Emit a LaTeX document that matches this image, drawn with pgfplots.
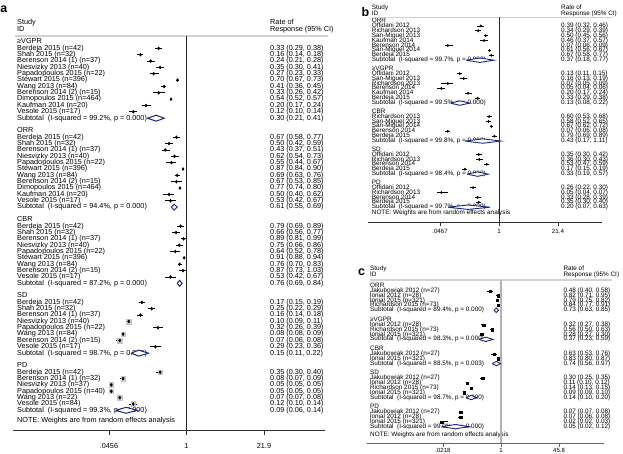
\documentclass[border=0pt]{standalone}
\usepackage{pgfplots}
\pgfplotsset{compat=1.18}
\usepackage{pgfplotstable}
\usepackage{fontspec}
\setmainfont{Liberation Sans}
\definecolor{stnavy}{RGB}{28,40,128}
\newcommand\R[3]{\node[tx] at (axis cs:\nx,#1) {#2}; \node[tx] at (axis cs:\ex,#1) {#3};}
\newcommand\Hd[2]{\node[tx] at (axis cs:\nx,#1) {#2};}
\newcommand\Ex[2]{\node[tx] at (axis cs:\ex,#1) {#2};}

% ---------- panel a data ----------
\pgfplotstableread{
y est lo hi
-2 0.33 0.29 0.38
-3 0.16 0.14 0.18
-4 0.24 0.21 0.28
-5 0.35 0.30 0.41
-6 0.27 0.23 0.33
-7 0.70 0.67 0.73
-8 0.41 0.36 0.45
-9 0.33 0.26 0.42
-10 0.54 0.52 0.57
-11 0.20 0.17 0.24
-12 0.12 0.10 0.14
-16 0.67 0.58 0.77
-17 0.50 0.42 0.59
-18 0.43 0.37 0.51
-19 0.62 0.54 0.73
-20 0.55 0.44 0.67
-21 0.87 0.84 0.90
-22 0.69 0.63 0.76
-23 0.67 0.53 0.85
-24 0.77 0.74 0.80
-25 0.50 0.40 0.62
-26 0.53 0.42 0.67
-30 0.79 0.69 0.89
-31 0.66 0.56 0.77
-32 0.89 0.81 0.99
-33 0.75 0.66 0.86
-34 0.64 0.52 0.78
-35 0.91 0.88 0.94
-36 0.76 0.70 0.83
-37 0.87 0.73 1.03
-38 0.53 0.42 0.67
-42 0.17 0.15 0.19
-43 0.25 0.22 0.29
-44 0.16 0.14 0.18
-45 0.10 0.09 0.11
-46 0.32 0.26 0.39
-47 0.08 0.08 0.09
-48 0.07 0.06 0.08
-49 0.29 0.23 0.36
-53 0.35 0.30 0.40
-54 0.08 0.07 0.09
-55 0.05 0.05 0.05
-56 0.05 0.05 0.05
-57 0.07 0.07 0.08
-58 0.12 0.10 0.14
}\studA
\pgfplotstableread{
y est
-45 0.10
-47 0.08
-48 0.07
-53 0.35
-54 0.08
-55 0.05
-56 0.05
-57 0.07
-58 0.12
}\boxA
% ---------- panel b data ----------
\pgfplotstableread{
y est lo hi
-2 0.39 0.32 0.46
-3 0.34 0.29 0.39
-4 0.50 0.45 0.56
-5 0.46 0.37 0.57
-6 0.07 0.06 0.09
-7 0.61 0.56 0.67
-8 0.67 0.58 0.77
-11.75 0.13 0.11 0.15
-12.75 0.16 0.13 0.19
-13.75 0.07 0.05 0.09
-14.75 0.05 0.04 0.06
-15.75 0.20 0.17 0.24
-16.75 0.33 0.29 0.38
-20.5 0.60 0.53 0.68
-21.5 0.58 0.52 0.65
-22.5 0.67 0.62 0.72
-23.5 0.07 0.06 0.08
-24.5 0.79 0.69 0.89
-28.25 0.35 0.30 0.42
-29.25 0.36 0.30 0.43
-30.25 0.53 0.47 0.59
-31.25 0.17 0.15 0.19
-35 0.26 0.22 0.30
-36 0.05 0.04 0.07
-37 0.33 0.28 0.39
-38 0.35 0.30 0.40
}\studB
% ---------- panel c data ----------
\pgfplotstableread{
y est lo hi
-2 0.48 0.40 0.58
-3 0.82 0.71 0.95
-4 0.79 0.75 0.82
-5 0.84 0.77 0.91
-9 0.32 0.27 0.38
-10 0.56 0.50 0.63
-11 0.28 0.27 0.30
-15 0.63 0.53 0.76
-16 0.83 0.80 0.87
-20 0.30 0.25 0.35
-21 0.11 0.10 0.12
-22 0.14 0.13 0.15
-23 0.09 0.09 0.10
-27 0.07 0.07 0.08
-28 0.07 0.06 0.08
-29 0.02 0.02 0.03
}\studC

\begin{document}
\begin{tikzpicture}
\path[use as bounding box] (0bp,0bp) rectangle (623bp,-454bp);
\node[anchor=base west, inner sep=0pt, font=\fontsize{12.5}{12.5}\selectfont\bfseries] at (0.3bp,-12.5bp) {a};
\node[anchor=base west, inner sep=0pt, font=\fontsize{12.5}{12.5}\selectfont\bfseries] at (361.5bp,-16bp) {b};
\node[anchor=base west, inner sep=0pt, font=\fontsize{12.5}{12.5}\selectfont\bfseries] at (358bp,-275bp) {c};

% =================== panel a ===================
\def\nx{0.001168}\def\ex{27.85}
\tikzset{tx/.style={anchor=west, inner sep=0pt, font=\fontsize{7.3}{7.3}\selectfont, text height=5.3pt, text depth=1.6pt}}
\begin{axis}[scale only axis, xmode=log, axis x line*=bottom, axis y line=none, clip=false,
  ytick=\empty, xminorticks=false, tick align=outside, major tick length=5bp,
  at={(13bp,-430bp)}, anchor=south west, width=312bp, height=394bp,
  xmin=0.000996, xmax=249, ymin=-62.1, ymax=-0.055,
  xtick={0.0456,1,21.9}, xticklabels={.0456,1,21.9},
  x axis line style={black!80, line width=0.6pt}, xtick style={black!80, line width=0.6pt},
  xticklabel style={font=\fontsize{7.3}{7.3}\selectfont, yshift=-4.5bp}]
\Hd{2.05}{Study}
\Hd{0.95}{ID}
\Ex{2.05}{Rate of}
\Ex{0.95}{Response (95\% CI)}
\Hd{-1}{≥VGPR}
\R{-2}{Berdeja 2015 (n=42)}{0.33 (0.29, 0.38)}
\R{-3}{Shah 2015 (n=32)}{0.16 (0.14, 0.18)}
\R{-4}{Berenson 2014 (1) (n=37)}{0.24 (0.21, 0.28)}
\R{-5}{Niesvizky 2013 (n=40)}{0.35 (0.30, 0.41)}
\R{-6}{Papadopoulos 2015 (n=22)}{0.27 (0.23, 0.33)}
\R{-7}{Stewart 2015 (n=396)}{0.70 (0.67, 0.73)}
\R{-8}{Wang 2013 (n=84)}{0.41 (0.36, 0.45)}
\R{-9}{Berenson 2014 (2) (n=15)}{0.33 (0.26, 0.42)}
\R{-10}{Dimopoulos 2015 (n=464)}{0.54 (0.52, 0.57)}
\R{-11}{Kaufman 2014 (n=20)}{0.20 (0.17, 0.24)}
\R{-12}{Vesole 2015 (n=17)}{0.12 (0.10, 0.14)}
\R{-13}{Subtotal\ \ (I-squared = 99.2\%, p = 0.000)}{0.30 (0.21, 0.41)}
\Hd{-15}{ORR}
\R{-16}{Berdeja 2015 (n=42)}{0.67 (0.58, 0.77)}
\R{-17}{Shah 2015 (n=32)}{0.50 (0.42, 0.59)}
\R{-18}{Berenson 2014 (1) (n=37)}{0.43 (0.37, 0.51)}
\R{-19}{Niesvizky 2013 (n=40)}{0.62 (0.54, 0.73)}
\R{-20}{Papadopoulos 2015 (n=22)}{0.55 (0.44, 0.67)}
\R{-21}{Stewart 2015 (n=396)}{0.87 (0.84, 0.90)}
\R{-22}{Wang 2013 (n=84)}{0.69 (0.63, 0.76)}
\R{-23}{Berenson 2014 (2) (n=15)}{0.67 (0.53, 0.85)}
\R{-24}{Dimopoulos 2015 (n=464)}{0.77 (0.74, 0.80)}
\R{-25}{Kaufman 2014 (n=20)}{0.50 (0.40, 0.62)}
\R{-26}{Vesole 2015 (n=17)}{0.53 (0.42, 0.67)}
\R{-27}{Subtotal\ \ (I-squared = 94.4\%, p = 0.000)}{0.61 (0.55, 0.69)}
\Hd{-29}{CBR}
\R{-30}{Berdeja 2015 (n=42)}{0.79 (0.69, 0.89)}
\R{-31}{Shah 2015 (n=32)}{0.66 (0.56, 0.77)}
\R{-32}{Berenson 2014 (1) (n=37)}{0.89 (0.81, 0.99)}
\R{-33}{Niesvizky 2013 (n=40)}{0.75 (0.66, 0.86)}
\R{-34}{Papadopoulos 2015 (n=22)}{0.64 (0.52, 0.78)}
\R{-35}{Stewart 2015 (n=396)}{0.91 (0.88, 0.94)}
\R{-36}{Wang 2013 (n=84)}{0.76 (0.70, 0.83)}
\R{-37}{Berenson 2014 (2) (n=15)}{0.87 (0.73, 1.03)}
\R{-38}{Vesole 2015 (n=17)}{0.53 (0.42, 0.67)}
\R{-39}{Subtotal\ \ (I-squared = 87.2\%, p = 0.000)}{0.76 (0.69, 0.84)}
\Hd{-41}{SD}
\R{-42}{Berdeja 2015 (n=42)}{0.17 (0.15, 0.19)}
\R{-43}{Shah 2015 (n=32)}{0.25 (0.22, 0.29)}
\R{-44}{Berenson 2014 (1) (n=37)}{0.16 (0.14, 0.18)}
\R{-45}{Niesvizky 2013 (n=40)}{0.10 (0.09, 0.11)}
\R{-46}{Papadopoulos 2015 (n=22)}{0.32 (0.26, 0.39)}
\R{-47}{Wang 2013 (n=84)}{0.08 (0.08, 0.09)}
\R{-48}{Berenson 2014 (2) (n=15)}{0.07 (0.06, 0.08)}
\R{-49}{Vesole 2015 (n=17)}{0.29 (0.23, 0.36)}
\R{-50}{Subtotal\ \ (I-squared = 98.7\%, p = 0.000)}{0.15 (0.11, 0.22)}
\Hd{-52}{PD}
\R{-53}{Berdeja 2015 (n=42)}{0.35 (0.30, 0.40)}
\R{-54}{Berenson 2014 (1) (n=32)}{0.08 (0.07, 0.09)}
\R{-55}{Niesvizky 2013 (n=37)}{0.05 (0.05, 0.05)}
\R{-56}{Papadopoulos 2015 (n=40)}{0.05 (0.05, 0.05)}
\R{-57}{Wang 2013 (n=22)}{0.07 (0.07, 0.08)}
\R{-58}{Vesole 2015 (n=84)}{0.12 (0.10, 0.14)}
\R{-59}{Subtotal\ \ (I-squared = 99.3\%, p = 0.000)}{0.09 (0.06, 0.14)}
\Hd{-60.6}{NOTE: Weights are from random effects analysis}
\draw[gray!35, line width=1.2pt] (axis cs:0.001078,-0.055) -- (axis cs:281,-0.055);
\addplot[black!85, line width=0.6pt] coordinates {(1,-0.055) (1,-62.1)};
\addplot[only marks, mark=square*, mark size=2.3pt, gray!45] table[x=est,y=y] {\boxA};
\addplot[black, only marks, mark=diamond*, mark size=1.5pt,
  error bars/.cd, x dir=both, x explicit, error mark=none, error bar style={line width=0.85pt, black}]
  table[x=est, y=y, x error plus expr=\thisrow{hi}-\thisrow{est}, x error minus expr=\thisrow{est}-\thisrow{lo}] {\studA};
\addplot[stnavy, line width=1pt, fill=white] coordinates {(0.21,-13) (0.30,-12.53) (0.41,-13) (0.30,-13.47) (0.21,-13)};
\addplot[stnavy, line width=1pt, fill=white] coordinates {(0.55,-27) (0.61,-26.53) (0.69,-27) (0.61,-27.47) (0.55,-27)};
\addplot[stnavy, line width=1pt, fill=white] coordinates {(0.69,-39) (0.76,-38.53) (0.84,-39) (0.76,-39.47) (0.69,-39)};
\addplot[stnavy, line width=1pt, fill=white] coordinates {(0.11,-50) (0.15,-49.53) (0.22,-50) (0.15,-50.47) (0.11,-50)};
\addplot[stnavy, line width=1pt, fill=white] coordinates {(0.06,-59) (0.09,-58.53) (0.14,-59) (0.09,-59.47) (0.06,-59)};
\end{axis}

% =================== panel b ===================
\def\nx{0.001343}\def\ex{25.05}
\tikzset{tx/.style={anchor=west, inner sep=0pt, font=\fontsize{6.4}{6.4}\selectfont, text height=4.6pt, text depth=1.4pt}}
\begin{axis}[scale only axis, xmode=log, axis x line*=bottom, axis y line=none, clip=false,
  ytick=\empty, xminorticks=false, tick align=outside, major tick length=4bp,
  at={(368.3bp,-222.3bp)}, anchor=south west, width=234bp, height=205bp,
  xmin=0.001125, xmax=214, ymin=-42.08, ymax=-0.245,
  xtick={0.0467,1,21.4}, xticklabels={.0467,1,21.4},
  x axis line style={black!80, line width=0.6pt}, xtick style={black!80, line width=0.6pt},
  xticklabel style={font=\fontsize{6.2}{6.2}\selectfont, yshift=0.5bp}]
\Hd{1.68}{Study}
\Hd{0.42}{ID}
\Ex{1.68}{Rate of}
\Ex{0.42}{Response (95\% CI)}
\Hd{-1}{ORR}
\R{-2}{Offidani 2012}{0.39 (0.32, 0.46)}
\R{-3}{Richardson 2013}{0.34 (0.29, 0.39)}
\R{-4}{San-Miguel 2013}{0.50 (0.45, 0.56)}
\R{-5}{Kaufman 2014}{0.46 (0.37, 0.57)}
\R{-6}{Berenson 2014}{0.07 (0.06, 0.09)}
\R{-7}{San-Miguel 2014}{0.61 (0.56, 0.67)}
\R{-8}{Berdeja 2015}{0.67 (0.58, 0.77)}
\R{-9}{Subtotal\ \ (I-squared = 99.7\%, p = 0.000)}{0.37 (0.18, 0.77)}
\Hd{-10.75}{≥VGPR}
\R{-11.75}{Offidani 2012}{0.13 (0.11, 0.15)}
\R{-12.75}{San-Miguel 2013}{0.16 (0.13, 0.19)}
\R{-13.75}{Richardson 2013}{0.07 (0.05, 0.09)}
\R{-14.75}{Berenson 2014}{0.05 (0.04, 0.06)}
\R{-15.75}{Kaufman 2014}{0.20 (0.17, 0.24)}
\R{-16.75}{Berdeja 2015}{0.33 (0.29, 0.38)}
\R{-17.75}{Subtotal\ \ (I-squared = 99.5\%, p = 0.000)}{0.13 (0.08, 0.22)}
\Hd{-19.5}{CBR}
\R{-20.5}{Richardson 2013}{0.60 (0.53, 0.68)}
\R{-21.5}{San-Miguel 2013}{0.58 (0.52, 0.65)}
\R{-22.5}{San-Miguel 2014}{0.67 (0.62, 0.72)}
\R{-23.5}{Berenson 2014}{0.07 (0.06, 0.08)}
\R{-24.5}{Berdeja 2015}{0.79 (0.69, 0.89)}
\R{-25.5}{Subtotal\ \ (I-squared = 99.8\%, p = 0.000)}{0.43 (0.17, 1.11)}
\Hd{-27.25}{SD}
\R{-28.25}{Offidani 2012}{0.35 (0.30, 0.42)}
\R{-29.25}{Richardson 2013}{0.36 (0.30, 0.43)}
\R{-30.25}{Berenson 2014}{0.53 (0.47, 0.59)}
\R{-31.25}{Berdeja 2015}{0.17 (0.15, 0.19)}
\R{-32.25}{Subtotal\ \ (I-squared = 98.4\%, p = 0.000)}{0.33 (0.19, 0.57)}
\Hd{-34}{PD}
\R{-35}{Offidani 2012}{0.26 (0.22, 0.30)}
\R{-36}{Richardson 2013}{0.05 (0.04, 0.07)}
\R{-37}{Berenson 2014}{0.33 (0.28, 0.39)}
\R{-38}{Berdeja 2015}{0.35 (0.30, 0.40)}
\R{-39}{Subtotal\ \ (I-squared = 99.7\%, p = 0.000)}{0.20 (0.07, 0.63)}
\Hd{-40.2}{NOTE: Weights are from random effects analysis}
\draw[gray!35, line width=1.2pt] (axis cs:0.001364,-0.245) -- (axis cs:373,-0.245);
\addplot[black!85, line width=0.6pt] coordinates {(1,-0.245) (1,-42.08)};
\addplot[black, only marks, mark=diamond*, mark size=1.2pt,
  error bars/.cd, x dir=both, x explicit, error mark=none, error bar style={line width=0.7pt, black}]
  table[x=est, y=y, x error plus expr=\thisrow{hi}-\thisrow{est}, x error minus expr=\thisrow{est}-\thisrow{lo}] {\studB};
\addplot[stnavy, line width=0.9pt, fill=white] coordinates {(0.18,-9) (0.37,-8.55) (0.77,-9) (0.37,-9.45) (0.18,-9)};
\addplot[stnavy, line width=0.9pt, fill=white] coordinates {(0.08,-17.75) (0.13,-17.3) (0.22,-17.75) (0.13,-18.2) (0.08,-17.75)};
\addplot[stnavy, line width=0.9pt, fill=white] coordinates {(0.17,-25.5) (0.43,-25.05) (1.11,-25.5) (0.43,-25.95) (0.17,-25.5)};
\addplot[stnavy, line width=0.9pt, fill=white] coordinates {(0.19,-32.25) (0.33,-31.8) (0.57,-32.25) (0.33,-32.7) (0.19,-32.25)};
\addplot[stnavy, line width=0.9pt, fill=white] coordinates {(0.07,-39) (0.20,-38.55) (0.63,-39) (0.20,-39.45) (0.07,-39)};
\end{axis}

% =================== panel c ===================
\def\nx{0.0001778}\def\ex{60.8}
\tikzset{tx/.style={anchor=west, inner sep=0pt, font=\fontsize{6.4}{6.4}\selectfont, text height=4.6pt, text depth=1.4pt}}
\begin{axis}[scale only axis, xmode=log, axis x line*=bottom, axis y line=none, clip=false,
  ytick=\empty, xminorticks=false, tick align=outside, major tick length=3.5bp,
  at={(366.7bp,-443.3bp)}, anchor=south west, width=237.3bp, height=163.3bp,
  xmin=0.000143, xmax=889, ymin=-33.43, ymax=0.237,
  xtick={0.0218,1,45.8}, xticklabels={.0218,1,45.8},
  x axis line style={black!60, line width=0.6pt}, xtick style={black!60, line width=0.6pt},
  xticklabel style={font=\fontsize{6}{6}\selectfont, yshift=2bp}]
\Hd{2.55}{Study}
\Hd{1.27}{ID}
\Ex{2.55}{Rate of}
\Ex{1.27}{Response (95\% CI)}
\Hd{-1}{ORR}
\R{-2}{Jakubowiak 2012 (n=27)}{0.48 (0.40, 0.58)}
\R{-3}{lonial 2012 (n=28)}{0.82 (0.71, 0.95)}
\R{-4}{lonial 2015 (n=321)}{0.79 (0.75, 0.82)}
\R{-5}{Richardson 2015 (n=73)}{0.84 (0.77, 0.91)}
\R{-6}{Subtotal\ \ (I-squared = 89.4\%, p = 0.000)}{0.73 (0.63, 0.85)}
\Hd{-8}{≥VGPR}
\R{-9}{lonial 2012 (n=28)}{0.32 (0.27, 0.38)}
\R{-10}{Richardson 2015 (n=73)}{0.56 (0.50, 0.63)}
\R{-11}{lonial 2015 (n=321)}{0.28 (0.27, 0.30)}
\R{-12}{Subtotal\ \ (I-squared = 98.3\%, p = 0.000)}{0.37 (0.23, 0.59)}
\Hd{-14}{CBR}
\R{-15}{Jakubowiak 2012 (n=27)}{0.63 (0.53, 0.76)}
\R{-16}{lonial 2015 (n=321)}{0.83 (0.80, 0.87)}
\R{-17}{Subtotal\ \ (I-squared = 88.5\%, p = 0.003)}{0.74 (0.56, 0.97)}
\Hd{-19}{SD}
\R{-20}{Jakubowiak 2012 (n=27)}{0.30 (0.25, 0.35)}
\R{-21}{lonial 2012 (n=28)}{0.11 (0.10, 0.12)}
\R{-22}{Richardson 2015 (n=73)}{0.14 (0.13, 0.15)}
\R{-23}{lonial 2015 (n=321)}{0.09 (0.09, 0.10)}
\R{-24}{Subtotal\ \ (I-squared = 98.7\%, p = 0.000)}{0.14 (0.10, 0.20)}
\Hd{-26}{PD}
\R{-27}{Jakubowiak 2012 (n=27)}{0.07 (0.07, 0.08)}
\R{-28}{lonial 2012 (n=28)}{0.07 (0.06, 0.08)}
\R{-29}{lonial 2015 (n=321)}{0.02 (0.02, 0.03)}
\R{-30}{Subtotal\ \ (I-squared = 99.0\%, p = 0.000)}{0.05 (0.02, 0.12)}
\Hd{-31.6}{NOTE: Weights are from random effects analysis}
\draw[gray!35, line width=1.2pt] (axis cs:0.0001778,0.237) -- (axis cs:1500,0.237);
\addplot[gray!60, line width=1.2pt] coordinates {(1,0.237) (1,-33.43)};
\addplot[black, only marks, mark=square*, mark size=1.1pt,
  error bars/.cd, x dir=both, x explicit, error mark=none, error bar style={line width=0.7pt, black}]
  table[x=est, y=y, x error plus expr=\thisrow{hi}-\thisrow{est}, x error minus expr=\thisrow{est}-\thisrow{lo}] {\studC};
\addplot[stnavy, line width=0.9pt, fill=white] coordinates {(0.63,-6) (0.73,-5.55) (0.85,-6) (0.73,-6.45) (0.63,-6)};
\addplot[stnavy, line width=0.9pt, fill=white] coordinates {(0.23,-12) (0.37,-11.55) (0.59,-12) (0.37,-12.45) (0.23,-12)};
\addplot[stnavy, line width=0.9pt, fill=white] coordinates {(0.56,-17) (0.74,-16.55) (0.97,-17) (0.74,-17.45) (0.56,-17)};
\addplot[stnavy, line width=0.9pt, fill=white] coordinates {(0.10,-24) (0.14,-23.55) (0.20,-24) (0.14,-24.45) (0.10,-24)};
\addplot[stnavy, line width=0.9pt, fill=white] coordinates {(0.02,-30) (0.05,-29.55) (0.12,-30) (0.05,-30.45) (0.02,-30)};
\end{axis}
\end{tikzpicture}
\end{document}
